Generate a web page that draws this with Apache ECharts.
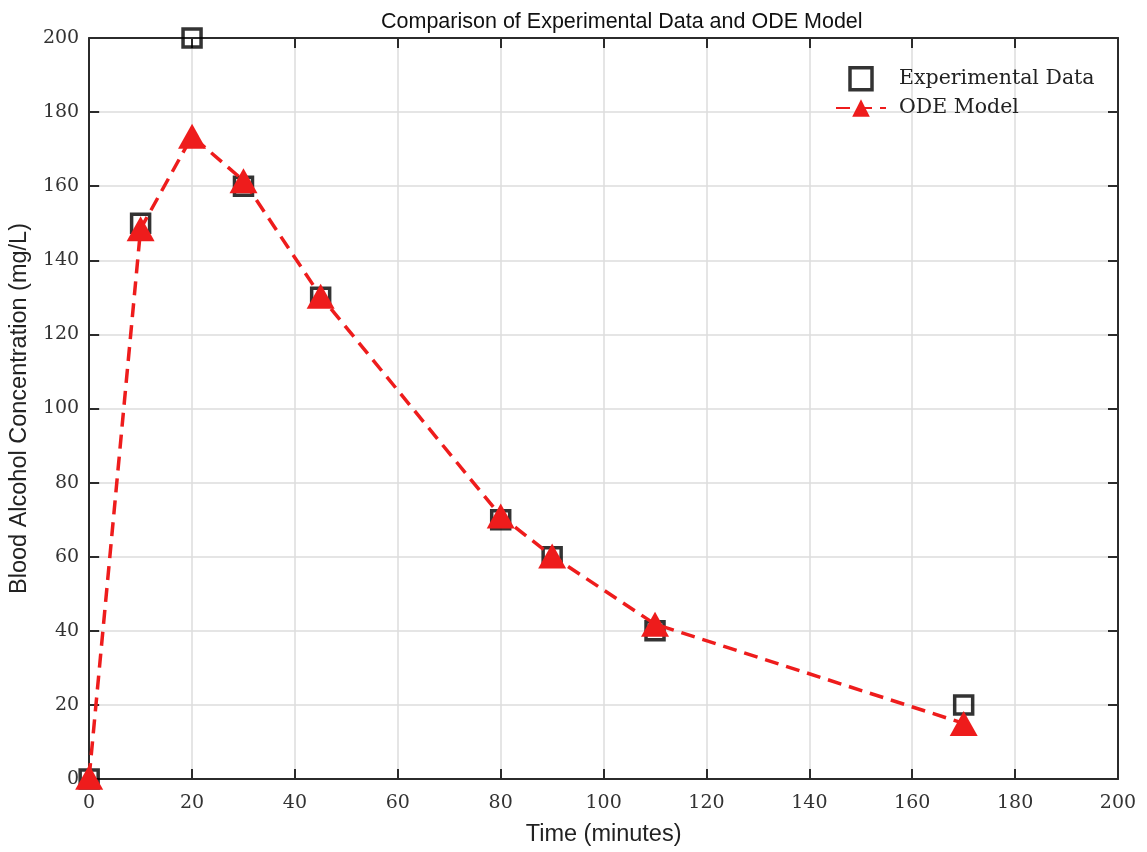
<!DOCTYPE html>
<html>
<head>
<meta charset="utf-8">
<script src="https://cdn.jsdelivr.net/npm/echarts@6/dist/echarts.min.js"></script>
<style>
  html, body { margin: 0; padding: 0; background: #fff; }
  #chart { width: 1147px; height: 852px; }
</style>
</head>
<body>
<div id="chart"></div>
<script>
// time points (minutes)
const times = [0, 10, 20, 30, 45, 80, 90, 110, 170]
// measured blood alcohol concentration (mg/L)
const expData = [0, 150, 200, 160, 130, 70, 60, 40, 20]
// ODE model output at the same times
const odeData = [0.5, 148.5, 173.5, 161.5, 130.3, 71, 60.2, 41.8, 15]

const serif = '"DejaVu Serif", "Liberation Serif", serif'
const sans = '"Liberation Sans", Arial, sans-serif'

const chart = echarts.init(document.getElementById('chart'))

const boxLine = { show: true, onZero: false, lineStyle: { color: '#2b2b2b', width: 2 } }
const tick = { show: true, inside: true, length: 10, lineStyle: { color: '#2b2b2b', width: 2 } }

let option = {
    animation: false,
    backgroundColor: '#fff',
    title: {
        text: 'Comparison of Experimental Data and ODE Model',
        left: 376,
        top: 6,
        textStyle: { fontFamily: sans, fontSize: 21.5, fontWeight: 'normal', color: '#111' }
    },
    legend: {
        top: 61,
        left: 830,
        orient: 'vertical',
        itemGap: 6,
        itemWidth: 50,
        itemHeight: 22,
        textStyle: { fontFamily: serif, fontSize: 20.5, color: '#222', padding: [0, 0, 0, 8] },
        data: [
            {
                name: 'Experimental Data',
                icon: 'path://M0,0 L10,0 L10,10 L0,10 Z',
                itemStyle: { color: 'rgba(255,255,255,0)', borderColor: '#000', borderWidth: 3.5 }
            },
            'ODE Model'
        ]
    },
    grid: { left: 89, right: 29, top: 38, bottom: 69 },
    xAxis: [
        {
            type: 'value',
            min: 0,
            max: 200,
            interval: 20,
            name: 'Time (minutes)',
            nameLocation: 'middle',
            nameGap: 44,
            nameTextStyle: { fontFamily: sans, fontSize: 23.5, color: '#222' },
            axisLine: boxLine,
            axisTick: tick,
            axisLabel: { fontFamily: serif, fontSize: 19, color: '#333', margin: 15 },
            splitLine: { show: true, lineStyle: { color: '#dcdcdc', width: 1.5 } }
        },
        {
            type: 'value',
            position: 'top',
            min: 0,
            max: 200,
            interval: 20,
            axisLine: boxLine,
            axisTick: tick,
            axisLabel: { show: false },
            splitLine: { show: false }
        }
    ],
    yAxis: [
        {
            type: 'value',
            min: 0,
            max: 200,
            interval: 20,
            name: 'Blood Alcohol Concentration (mg/L)',
            nameLocation: 'middle',
            nameGap: 53,
            nameTextStyle: { fontFamily: sans, fontSize: 23.5, color: '#222' },
            axisLine: boxLine,
            axisTick: tick,
            axisLabel: { fontFamily: serif, fontSize: 19, color: '#333', margin: 10 },
            splitLine: { show: true, lineStyle: { color: '#dcdcdc', width: 1.5 } }
        },
        {
            type: 'value',
            position: 'right',
            min: 0,
            max: 200,
            interval: 20,
            axisLine: boxLine,
            axisTick: tick,
            axisLabel: { show: false },
            splitLine: { show: false }
        }
    ],
    series: [
        {
            name: 'Experimental Data',
            type: 'scatter',
            symbol: 'rect',
            symbolSize: 18,
            clip: false,
            z: 3,
            itemStyle: { color: 'rgba(255,255,255,0)', borderColor: '#000', borderWidth: 3.5 },
            data: times.map((t, i) => [t, expData[i]])
        },
        {
            name: 'ODE Model',
            type: 'line',
            symbol: 'triangle',
            symbolSize: [28, 25],
            showAllSymbol: true,
            clip: false,
            z: 4,
            lineStyle: { color: '#ee1c1c', width: 3.5, type: [14, 8] },
            itemStyle: { color: '#ee1c1c', borderWidth: 0 },
            data: times.map((t, i) => [t, odeData[i]])
        }
    ]
}

chart.setOption(option)
</script>
</body>
</html>
